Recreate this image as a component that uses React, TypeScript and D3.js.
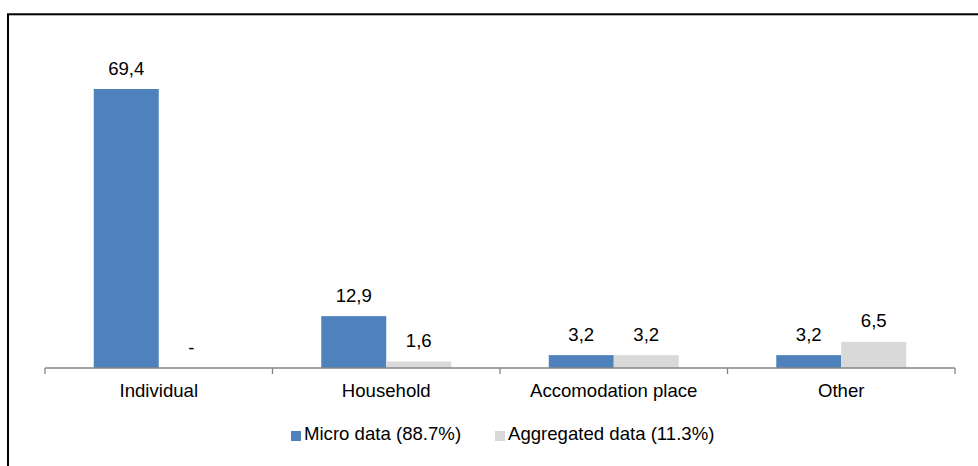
import { scaleBand, scaleLinear } from "d3";

const categories = ["Individual", "Household", "Accomodation place", "Other"];
const microValues = [69.4, 12.9, 3.2, 3.2];
const aggregatedValues = [0, 1.6, 3.2, 6.5];
const seriesNames = ["Micro data (88.7%)", "Aggregated data (11.3%)"];
const seriesColors = ["#4F81BD", "#D9D9D9"];

const W = 978, H = 466;
const FONT = "'Liberation Sans', Arial, sans-serif";
const FS = 18.6;
const fmt = (v: number) => (v === 0 ? "-" : v.toFixed(1).replace(".", ","));

export default function App() {
  const x = scaleBand<string>().domain(categories).range([45, 955]);
  const y = scaleLinear().domain([0, 70]).range([368, 86.6]);
  const barW = 65;
  const series = [microValues, aggregatedValues];
  const boundaries = [...categories.map(c => x(c)!), 955];

  return (
    <svg width={W} height={H} style={{ position: "absolute", left: 0, top: 0 }} fontFamily={FONT}>
      <rect width={W} height={H} fill="#fff" />
      <rect x={8} y={14.3} width={1000} height={500} fill="none" stroke="#000" strokeWidth={2} />
      {series.map((vals, si) =>
        categories.map((c, i) => {
          const cx = x(c)! + x.bandwidth() / 2;
          const bx = si === 0 ? cx - barW : cx;
          const v = vals[i];
          return (
            <g key={`${si}-${c}`}>
              <rect x={bx} y={y(v)} width={barW} height={y(0) - y(v)} fill={seriesColors[si]} />
              <text x={bx + barW / 2} y={y(v) - 14.5} textAnchor="middle" fontSize={FS} fill="#000">
                {fmt(v)}
              </text>
            </g>
          );
        })
      )}
      <line x1={45} x2={955} y1={y(0)} y2={y(0)} stroke="#868686" strokeWidth={1.3} />
      {boundaries.map((b, i) => (
        <line key={i} x1={b} x2={b} y1={y(0)} y2={y(0) + 6} stroke="#868686" strokeWidth={1.3} />
      ))}
      {categories.map(c => (
        <text key={c} x={x(c)! + x.bandwidth() / 2} y={397} textAnchor="middle" fontSize={FS} fill="#000">
          {c}
        </text>
      ))}
      <g>
        <rect x={291} y={431} width={10} height={10} fill={seriesColors[0]} />
        <text x={304} y={439.5} fontSize={FS} fill="#000">{seriesNames[0]}</text>
        <rect x={495} y={431} width={10} height={10} fill={seriesColors[1]} />
        <text x={508} y={439.5} fontSize={FS} fill="#000">{seriesNames[1]}</text>
      </g>
    </svg>
  );
}
